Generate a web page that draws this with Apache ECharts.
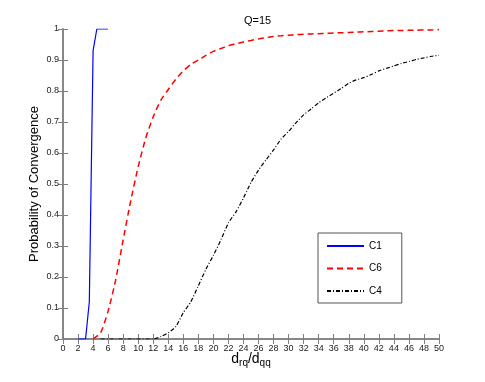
<!DOCTYPE html>
<html lang="en">
<head>
  <meta charset="UTF-8">
  <title>Q=15</title>
  <script src="https://cdn.jsdelivr.net/npm/echarts@6/dist/echarts.min.js"></script>
</head>
<style>
  body { margin: 0; background: #fff; }
</style>
<body>
<div id="main" style="width: 485px;height:382px;"></div>
<script>
  // curve C1
  var c1X = [2, 3, 3.5, 4, 4.5, 5, 6];
  var c1Y = [0, 0, 0.12, 0.93, 1, 1, 1];
  // curve C6
  var c6X = [4, 5, 6, 7, 8, 9, 10, 11, 12, 13, 14, 15, 16, 17, 18, 19, 20, 21, 22, 23, 24, 25, 26, 27,
    28, 29, 30, 31, 32, 33, 34, 35, 36, 37, 38, 39, 40, 41, 42, 43, 44, 45, 46, 47, 48, 49, 50];
  var c6Y = [0, 0.02, 0.09, 0.19, 0.32, 0.445, 0.556, 0.648, 0.717, 0.77, 0.805, 0.838, 0.865, 0.886, 0.9, 0.915,
    0.928, 0.937, 0.946, 0.952, 0.958, 0.963, 0.968, 0.972, 0.976, 0.978, 0.98, 0.982, 0.983, 0.984, 0.985,
    0.986, 0.987, 0.988, 0.989, 0.99, 0.991, 0.992, 0.993, 0.994, 0.995, 0.995, 0.996, 0.996, 0.997, 0.997, 0.998];
  // curve C4
  var c4X = [5, 6, 7, 8, 9, 10, 11, 12, 13, 14, 15, 16, 17, 18, 19, 20, 21, 22, 23, 24, 25, 26, 27,
    28, 29, 30, 31, 32, 33, 34, 35, 36, 37, 38, 39, 40, 41, 42, 43, 44, 45, 46, 47, 48, 49, 50];
  var c4Y = [0, 0, 0, 0, 0, 0, 0, 0, 0.008, 0.02, 0.04, 0.085, 0.12, 0.172, 0.225, 0.27, 0.32, 0.375, 0.41,
    0.455, 0.505, 0.545, 0.578, 0.61, 0.645, 0.67, 0.698, 0.723, 0.742, 0.762, 0.778, 0.793, 0.808, 0.825,
    0.836, 0.843, 0.853, 0.865, 0.873, 0.881, 0.889, 0.895, 0.902, 0.907, 0.912, 0.915];
  var seriesNames = ['C1', 'C6', 'C4'];

  function pairs(xs, ys) {
    var out = [];
    for (var i = 0; i < xs.length; i++) out.push([xs[i], ys[i]]);
    return out;
  }

  var font = 'Liberation Sans, Arial, Helvetica, sans-serif';
  var axisGrey = '#808080';
  var frameTick = { show: true, inside: true, length: 5, lineStyle: { color: axisGrey } };

  var myChart = echarts.init(document.getElementById('main'));
  myChart.setOption({
    animation: false,
    textStyle: { fontFamily: font },
    title: {
      text: 'Q=15',
      left: 239,
      top: 10,
      textStyle: { fontSize: 11, fontWeight: 'normal', color: '#000', fontFamily: font }
    },
    legend: {
      orient: 'vertical',
      left: 318,
      top: 233,
      padding: [8, 20, 7, 8],
      itemWidth: 37,
      itemHeight: 10,
      itemGap: 12.5,
      itemStyle: { opacity: 0 },
      backgroundColor: '#fff',
      borderColor: '#555',
      borderWidth: 1,
      borderRadius: 0,
      textStyle: { fontSize: 10, color: '#000', fontFamily: font },
      data: seriesNames
    },
    grid: { left: 63, right: 46, top: 29, bottom: 43 },
    xAxis: [{
      type: 'value', min: 0, max: 50, interval: 2,
      name: 'd{s|rq}/d{s|qq}',
      nameLocation: 'middle',
      nameGap: 11,
      nameMoveOverlap: false,
      nameTextStyle: {
        fontSize: 14, color: '#000', fontFamily: font, verticalAlign: 'top',
        rich: { s: { fontSize: 10, verticalAlign: 'bottom', padding: [8, 0, 0, 0], fontFamily: font } }
      },
      axisLine: { lineStyle: { color: axisGrey, width: 1.5 } },
      axisTick: frameTick,
      axisLabel: { fontSize: 9, color: '#222', margin: 5 },
      splitLine: { show: false }
    }, {
      type: 'value', min: 0, max: 50, interval: 2, position: 'top',
      axisLine: { show: true, lineStyle: { color: axisGrey, width: 1.5 } },
      axisTick: frameTick,
      axisLabel: { show: false },
      splitLine: { show: false }
    }],
    yAxis: [{
      type: 'value', min: 0, max: 1, interval: 0.1,
      name: 'Probability of Convergence',
      nameLocation: 'middle',
      nameGap: 22,
      nameMoveOverlap: false,
      nameTextStyle: { fontSize: 13, color: '#000', fontFamily: font },
      axisLine: { show: true, lineStyle: { color: axisGrey, width: 1.5 } },
      axisTick: frameTick,
      axisLabel: { fontSize: 9, color: '#222', margin: 4 },
      splitLine: { show: false }
    }, {
      type: 'value', min: 0, max: 1, interval: 0.1, position: 'right',
      axisLine: { show: true, lineStyle: { color: axisGrey, width: 1.5 } },
      axisTick: frameTick,
      axisLabel: { show: false },
      splitLine: { show: false }
    }],
    series: [{
      name: 'C1', type: 'line', symbol: 'none', color: '#0000ff',
      lineStyle: { color: '#0000ff', width: 1.2 },
      data: pairs(c1X, c1Y)
    }, {
      name: 'C6', type: 'line', symbol: 'none', color: '#ff0000', smooth: 0.2,
      lineStyle: { color: '#ff0000', width: 1.5, type: [6, 4] },
      data: pairs(c6X, c6Y)
    }, {
      name: 'C4', type: 'line', symbol: 'none', color: '#000000', smooth: 0.2,
      lineStyle: { color: '#000000', width: 1.2, type: [4, 2, 1, 2] },
      data: pairs(c4X, c4Y)
    }]
  });
</script>
</body>
</html>
